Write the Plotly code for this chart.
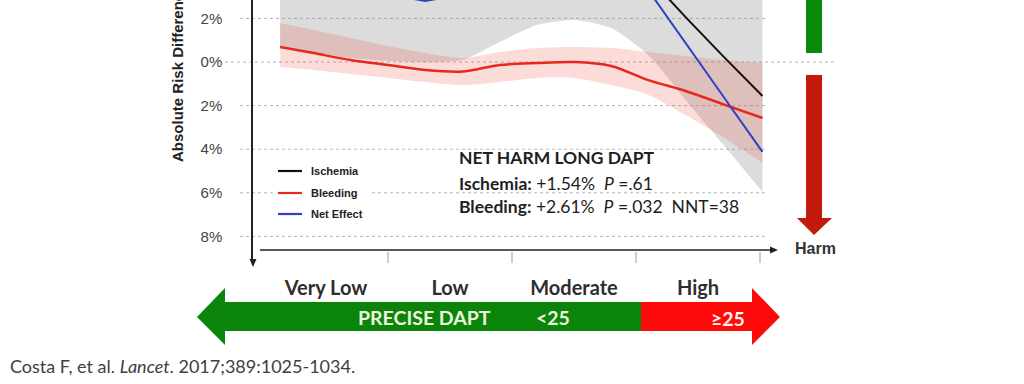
import plotly.graph_objects as go

# ---------------- data ----------------
# x position along the PRECISE-DAPT axis (quartile units: 0..4)
xpos = [0.13, 0.40, 0.70, 1.00, 1.30, 1.60, 1.90, 2.20, 2.50, 2.80, 3.10, 3.40, 3.70, 4.02]
# absolute risk difference (%), positive = benefit (up), negative = harm (down)
bleeding    = [0.69, 0.41, 0.09, -0.14, -0.37, -0.44, -0.14, -0.05, 0.00, -0.18, -0.83, -1.33, -1.93, -2.57]
bleeding_lo = [-0.23, -0.37, -0.55, -0.73, -0.92, -1.06, -0.92, -0.73, -0.73, -1.06, -1.51, -2.43, -3.44, -4.63]
bleeding_hi = [1.79, 1.47, 1.10, 0.73, 0.41, 0.18, 0.46, 0.64, 0.69, 0.64, 0.46, 0.28, 0.09, -0.05]
ischemia    = [3.6, 3.8, 4.0, 4.2, 4.4, 4.7, 5.0, 5.3, 5.5, 5.3, 3.9, 2.06, 0.28, -1.56]
ischemia_lo = [0.64, 0.41, 0.18, 0.05, 0.00, 0.09, 0.92, 1.70, 1.93, 1.56, 0.32, -1.74, -3.76, -5.96]
ischemia_hi = [4.8, 4.6, 4.5, 4.5, 4.7, 5.0, 5.5, 6.0, 6.3, 6.2, 5.8, 5.4, 5.0, 4.6]
net_effect  = [4.3, 3.8, 3.5, 3.1, 2.80, 3.1, 3.5, 4.0, 4.6, 4.8, 3.29, 0.84, -1.55, -4.12]

categories = ["Very Low", "Low", "Moderate", "High"]
cat_pos = [0.5, 1.5, 2.5, 3.5]
bin_edges = [1, 2, 3, 4]
y_ticks = [2, 0, -2, -4, -6, -8]
y_ticktext = ["2%", "0%", "2%", "4%", "6%", "8%"]
legend_names = ["Ischemia", "Bleeding", "Net Effect"]

# ---------------- styling ----------------
W, H = 1024, 384
ARIAL = "Liberation Sans, Arial, sans-serif"
CAL = "Lato, Open Sans, sans-serif"
C_RED, C_BLACK, C_BLUE = "#E8281E", "#111111", "#2F3FC8"

def px(x):
    return x / W

def py(y):
    return 1 - y / H

def path(points):
    s = "M " + " L ".join(f"{px(a):.5f},{py(b):.5f}" for a, b in points) + " Z"
    return s

fig = go.Figure()

# ischemia CI (grey band)
fig.add_trace(go.Scatter(x=xpos, y=ischemia_lo, mode="lines", line=dict(width=0, shape="spline", smoothing=0.6),
                         hoverinfo="skip", showlegend=False))
fig.add_trace(go.Scatter(x=xpos, y=ischemia_hi, mode="lines", line=dict(width=0, shape="spline", smoothing=0.6),
                         fill="tonexty", fillcolor="rgba(140,140,140,0.30)", hoverinfo="skip", showlegend=False))
# bleeding CI (pink band)
fig.add_trace(go.Scatter(x=xpos, y=bleeding_lo, mode="lines", line=dict(width=0, shape="spline", smoothing=0.8),
                         hoverinfo="skip", showlegend=False))
fig.add_trace(go.Scatter(x=xpos, y=bleeding_hi, mode="lines", line=dict(width=0, shape="spline", smoothing=0.8),
                         fill="tonexty", fillcolor="rgba(240,60,40,0.18)", hoverinfo="skip", showlegend=False))
# lines
fig.add_trace(go.Scatter(x=xpos, y=bleeding, mode="lines", name=legend_names[1],
                         line=dict(color=C_RED, width=2.5, shape="spline", smoothing=0.8)))
fig.add_trace(go.Scatter(x=xpos, y=ischemia, mode="lines", name=legend_names[0],
                         line=dict(color=C_BLACK, width=2)))
fig.add_trace(go.Scatter(x=xpos, y=net_effect, mode="lines", name=legend_names[2],
                         line=dict(color=C_BLUE, width=2)))

shapes = []
# dotted grid lines
for v in y_ticks:
    x0, x1 = (225, 837) if v == 0 else (240, 765)
    shapes.append(dict(type="line", xref="paper", yref="y", x0=px(x0), x1=px(x1), y0=v, y1=v,
                       line=dict(color="#B5B5B5", width=1, dash="dot"), layer="below"))
# legend background (hides grid line)
shapes.append(dict(type="rect", xref="paper", yref="paper", x0=px(274), x1=px(370), y0=py(224), y1=py(162),
                   fillcolor="white", line=dict(width=0), layer="below"))
# legend samples
for yy, col in zip([171, 193, 214], [C_BLACK, C_RED, C_BLUE]):
    shapes.append(dict(type="line", xref="paper", yref="paper", x0=px(278), x1=px(302), y0=py(yy), y1=py(yy),
                       line=dict(color=col, width=2.2)))
# x axis line + arrow
shapes.append(dict(type="line", xref="paper", yref="paper", x0=px(260), x1=px(772), y0=py(250), y1=py(250),
                   line=dict(color="#222", width=1.5)))
shapes.append(dict(type="path", xref="paper", yref="paper", path=path([(770, 246.5), (778, 250), (770, 253.5)]),
                   fillcolor="#222", line=dict(width=0)))
# y axis arrow
shapes.append(dict(type="path", xref="paper", yref="paper", path=path([(249.5, 259), (253, 267), (256.5, 259)]),
                   fillcolor="#222", line=dict(width=0)))
# x ticks separating bins
for e in bin_edges:
    shapes.append(dict(type="line", xref="x", yref="paper", x0=e, x1=e, y0=py(252), y1=py(263),
                       line=dict(color="#A0A0A0", width=1)))
# bottom double arrow
shapes.append(dict(type="path", xref="paper", yref="paper",
                   path=path([(197, 317), (225, 288), (225, 302), (641, 302), (641, 331), (225, 331), (225, 345)]),
                   fillcolor="#0A850A", line=dict(width=0)))
shapes.append(dict(type="path", xref="paper", yref="paper",
                   path=path([(641, 302), (752, 302), (752, 288), (780, 317), (752, 345), (752, 331), (641, 331)]),
                   fillcolor="#FF0A0A", line=dict(width=0)))
# right benefit / harm arrows
shapes.append(dict(type="rect", xref="paper", yref="paper", x0=px(806), x1=px(822), y0=py(53), y1=py(-5),
                   fillcolor="#0A8A0A", line=dict(width=0)))
shapes.append(dict(type="path", xref="paper", yref="paper",
                   path=path([(806, 75), (822, 75), (822, 218), (832, 218), (814, 235), (797, 218), (806, 218)]),
                   fillcolor="#C41A0C", line=dict(width=0)))

annotations = []
# legend labels
for yy, name in zip([171, 193, 214], legend_names):
    annotations.append(dict(xref="paper", yref="paper", x=px(309), y=py(yy), xanchor="left", yanchor="middle",
                            text=f"<b>{name}</b>", showarrow=False, font=dict(family=ARIAL, size=11, color="#222")))
# y axis title
annotations.append(dict(xref="paper", yref="paper", x=px(178), y=py(164), xanchor="center", yanchor="bottom",
                        textangle=-90, text="<b>Absolute Risk Difference</b>", showarrow=False,
                        font=dict(family=ARIAL, size=15, color="#222")))
# result box
nb = "\u00a0"
res_lines = [
    (158, "<b>NET HARM LONG DAPT</b>"),
    (183, f"<b>Ischemia:</b> +1.54%{nb}{nb}<i>P</i> =.61"),
    (206, f"<b>Bleeding:</b> +2.61%{nb}{nb}<i>P</i> =.032{nb}{nb}NNT=38"),
]
for yy, t in res_lines:
    annotations.append(dict(xref="paper", yref="paper", x=px(457), y=py(yy), xanchor="left", yanchor="middle",
                            text=t, showarrow=False, font=dict(family=CAL, size=17.5, color="#1E1E1E")))
# arrow texts
annotations.append(dict(xref="paper", yref="paper", x=px(424), y=py(317), xanchor="center", yanchor="middle",
                        text="<b>PRECISE DAPT</b>", showarrow=False, font=dict(family=CAL, size=19.5, color="#EEF5DC")))
annotations.append(dict(xref="paper", yref="paper", x=px(553), y=py(317), xanchor="center", yanchor="middle",
                        text="<b>&lt;25</b>", showarrow=False, font=dict(family=CAL, size=19.5, color="#EEF5DC")))
annotations.append(dict(xref="paper", yref="paper", x=px(728), y=py(318), xanchor="center", yanchor="middle",
                        text="<b>\u226525</b>", showarrow=False, font=dict(family=CAL, size=19.5, color="#FFF0F0")))
# Harm label
annotations.append(dict(xref="paper", yref="paper", x=px(815), y=py(248), xanchor="center", yanchor="middle",
                        text="<b>Harm</b>", showarrow=False, font=dict(family=ARIAL, size=16, color="#333")))
# citation
annotations.append(dict(xref="paper", yref="paper", x=px(8), y=py(366), xanchor="left", yanchor="middle",
                        text="Costa F, et al. <i>Lancet</i>. 2017;389:1025-1034.", showarrow=False,
                        font=dict(family=CAL, size=18, color="#404040")))

fig.update_layout(
    width=W, height=H,
    margin=dict(l=0, r=0, t=0, b=0, pad=0),
    paper_bgcolor="white", plot_bgcolor="white",
    showlegend=False,
    shapes=shapes, annotations=annotations,
    xaxis=dict(domain=[px(253), px(780)], range=[-11 / 124, 516 / 124], showgrid=False, zeroline=False,
               showline=False, tickmode="array", tickvals=cat_pos,
               ticktext=[f"<b>{c}</b>" for c in categories], ticks="", ticklabelstandoff=12,
               tickfont=dict(family=CAL, size=20, color="#2E2E2E")),
    yaxis=dict(domain=[1 - 262 / H, 1], range=[(62 - 262) / 21.8, 62 / 21.8], showgrid=False, zeroline=False,
               showline=True, linecolor="#222", linewidth=1.5, tickmode="array", tickvals=y_ticks,
               ticktext=y_ticktext, ticks="", ticklabelstandoff=26,
               tickfont=dict(family=ARIAL, size=15, color="#444")),
)

fig.write_html("out.html", config={"displayModeBar": False},
               post_script="document.body.style.margin='0';document.body.style.overflow='hidden';")
